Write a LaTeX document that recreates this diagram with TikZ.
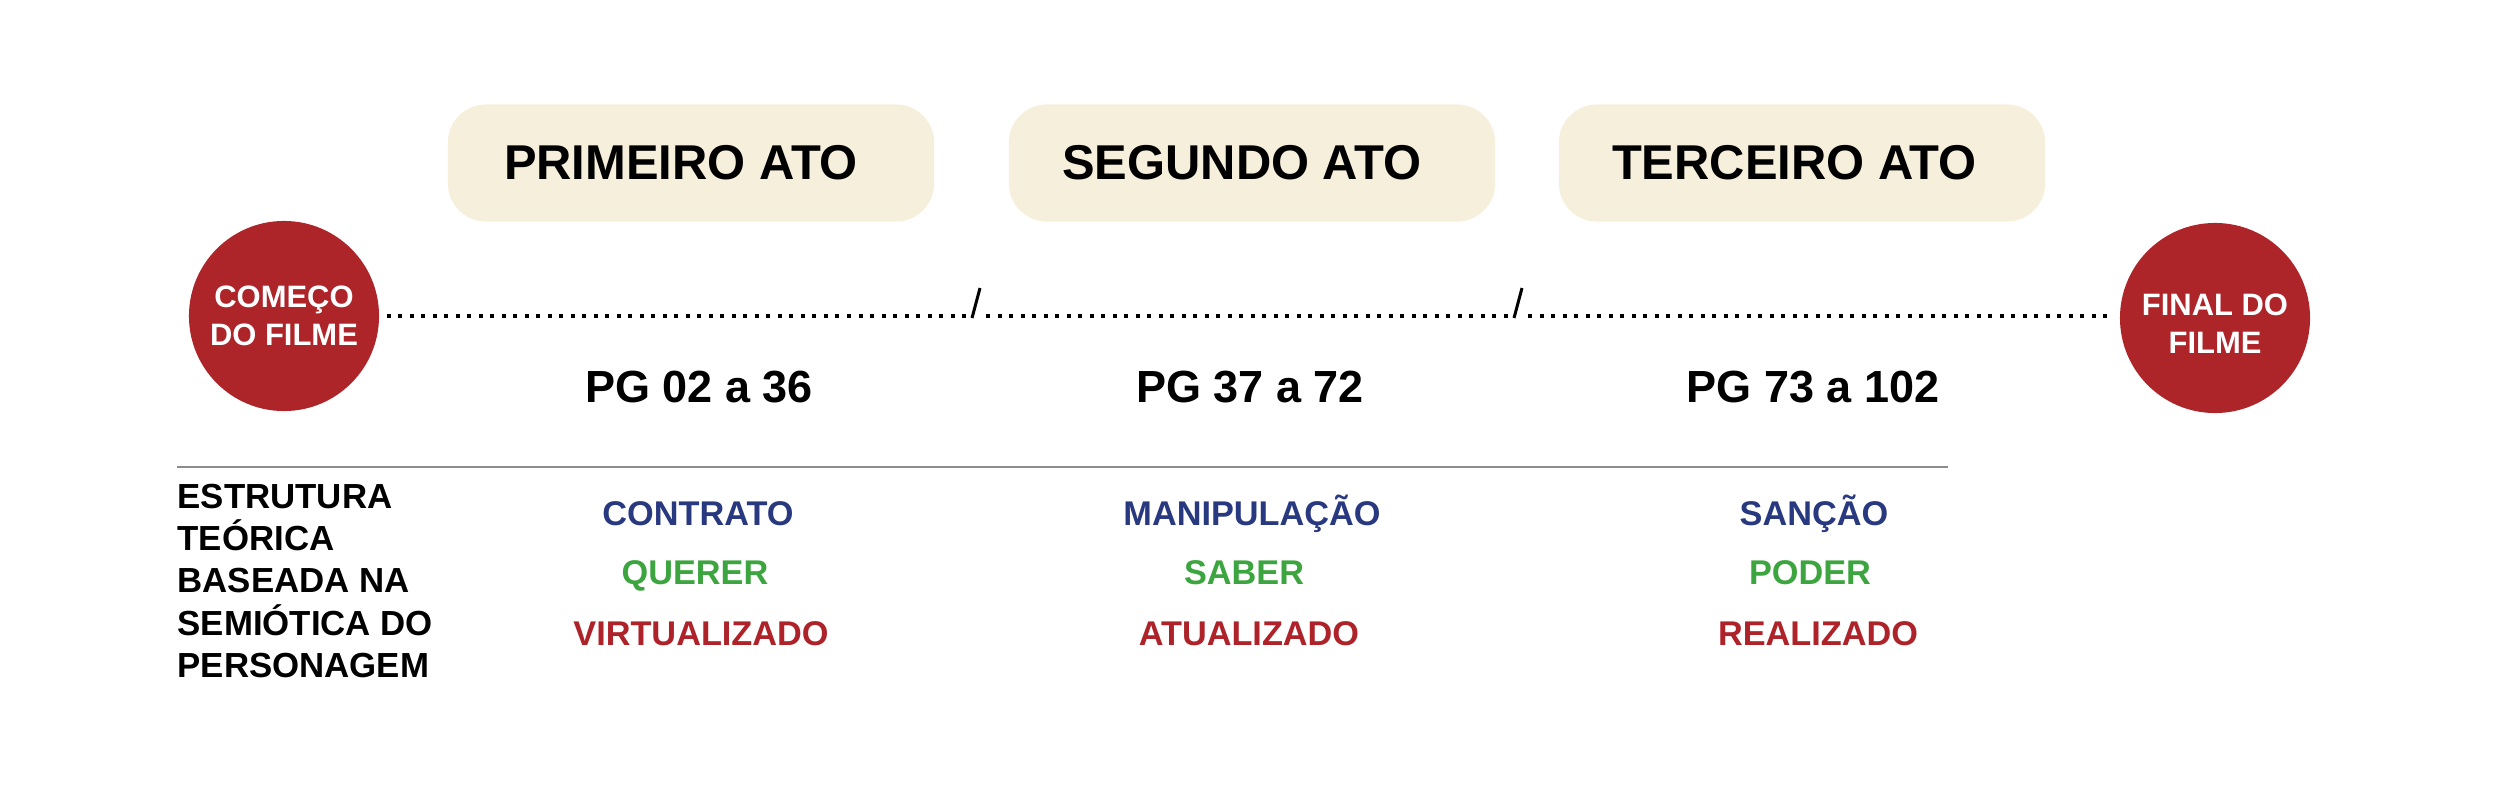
\documentclass[tikz,border=0pt]{standalone}
\usepackage{fontspec}
\setmainfont{Liberation Sans}
\definecolor{cream}{HTML}{F6EFDC}
\definecolor{dred}{HTML}{AD2429}
\definecolor{tblue}{HTML}{29397F}
\definecolor{tgreen}{HTML}{3DA53F}
\definecolor{tred}{HTML}{AE2229}
\newcommand{\acttitle}[1]{#1\hspace*{0.2cm}}
\begin{document}
\begin{tikzpicture}[x=0.01cm,y=-0.01cm,
  actbox/.style={draw=none,fill=cream,rounded corners=0.38cm,minimum width=4.86cm,minimum height=1.17cm,inner sep=0pt,font=\fontsize{13.9}{16}\selectfont\bfseries},
  endcirc/.style={circle,fill=dred,minimum size=1.9cm,inner sep=0pt,text=white,align=center,font=\fontsize{8.8}{10.8}\selectfont\bfseries},
  pglabel/.style={anchor=base,inner sep=0pt,font=\fontsize{12.8}{15}\selectfont\bfseries},
  coltext/.style={anchor=base,inner sep=0pt,font=\fontsize{9.75}{12}\selectfont\bfseries},
  dotline/.style={line width=0.045cm,dash pattern=on 0.04cm off 0.075cm},
  slash/.style={line width=0.03cm},
  rule/.style={line width=0.02cm,black!45}]
\useasboundingbox (0,0) rectangle (2500,800);
% act boxes
\node[actbox] (a1) at (691,163) {\acttitle{PRIMEIRO ATO}};
\node[actbox] (a2) at (1252,163) {\acttitle{SEGUNDO ATO}};
\node[actbox] (a3) at (1802,163) {\hspace*{0.05cm}\acttitle{TERCEIRO ATO}};
% circles
\node[endcirc] (start) at (284,316) {COMEÇO\\DO FILME};
\node[endcirc] (fin) at (2215,318) {\rule{0pt}{0.32cm}FINAL DO\\FILME};
% timeline
\coordinate (d1) at (968,316);
\coordinate (d2) at (986,316);
\coordinate (d3) at (1510,316);
\coordinate (d4) at (1528,316);
\coordinate (s1b) at (972,318);
\coordinate (s1t) at (980,288);
\coordinate (s2b) at (1514,318);
\coordinate (s2t) at (1522,288);
\draw[dotline,shorten <=0.07cm] (start.east) -- (d1);
\draw[dotline] (d2) -- (d3);
\draw[dotline,shorten >=0.07cm] (d4) -- (fin.west |- d4);
\draw[slash] (s1b) -- (s1t);
\draw[slash] (s2b) -- (s2t);
% page labels
\node[pglabel] (pg1) at (699,402) {PG 02 a 36};
\node[pglabel] (pg2) at (1250,402) {PG 37 a 72};
\node[pglabel] (pg3) at (1813,402) {PG 73 a 102};
% separator
\coordinate (r0) at (177,467);
\coordinate (r1) at (1948,467);
\draw[rule] (r0) -- (r1);
% left block
\node[anchor=west,inner sep=0pt,align=left,font=\fontsize{9.9}{11.98}\selectfont\bfseries] (est) at (177,581)
  {ESTRUTURA\\TEÓRICA\\BASEADA NA\\SEMIÓTICA DO\\PERSONAGEM};
% columns
\node[coltext,text=tblue] (c1a) at (698,525) {CONTRATO};
\node[coltext,text=tgreen] (c1b) at (695,584) {QUERER};
\node[coltext,text=tred] (c1c) at (701,645) {VIRTUALIZADO};
\node[coltext,text=tblue] (c2a) at (1252,525) {MANIPULAÇÃO};
\node[coltext,text=tgreen] (c2b) at (1244,584) {SABER};
\node[coltext,text=tred] (c2c) at (1249,645) {ATUALIZADO};
\node[coltext,text=tblue] (c3a) at (1814,525) {SANÇÃO};
\node[coltext,text=tgreen] (c3b) at (1810,584) {PODER};
\node[coltext,text=tred] (c3c) at (1818,645) {REALIZADO};
\end{tikzpicture}
\end{document}
